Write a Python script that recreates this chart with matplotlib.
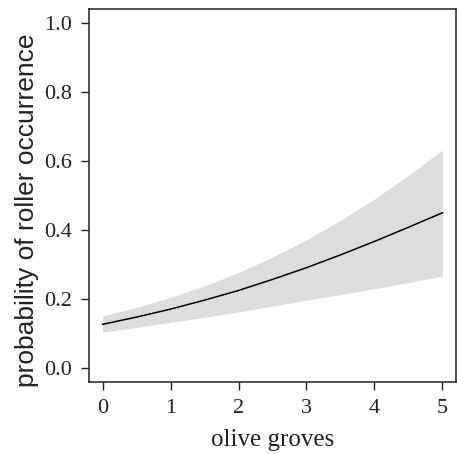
import matplotlib
matplotlib.use("Agg")
import matplotlib.pyplot as plt

# data
x_vals = [0, 0.5, 1, 1.5, 2, 2.5, 3, 3.5, 4, 4.5, 5]
p_fit = [0.127, 0.148, 0.171, 0.197, 0.225, 0.257, 0.291, 0.328, 0.367, 0.408, 0.450]
p_low = [0.104, 0.118, 0.133, 0.147, 0.163, 0.180, 0.197, 0.213, 0.230, 0.248, 0.267]
p_high = [0.151, 0.176, 0.205, 0.238, 0.277, 0.322, 0.372, 0.428, 0.490, 0.558, 0.632]
x_ticks = [0, 1, 2, 3, 4, 5]
y_ticks = [0.0, 0.2, 0.4, 0.6, 0.8, 1.0]

fig = plt.figure(figsize=(4.57, 4.54), dpi=100)
ax = fig.add_axes([89/457, (454-382)/454, (456-89)/457, (382-9)/454])

ax.fill_between(x_vals, p_low, p_high, color="#dddddd", linewidth=0)
ax.plot(x_vals, p_fit, color="black", linewidth=1.1)

ax.set_xlim(-0.2, 5.2)
ax.set_ylim(-0.04, 1.04)
ax.set_xticks(x_ticks)
ax.set_xticklabels([str(t) for t in x_ticks])
ax.set_yticks(y_ticks)
ax.set_yticklabels([f"{t:.1f}" for t in y_ticks])

serif = "Liberation Serif"
for lab in ax.get_xticklabels() + ax.get_yticklabels():
    lab.set_fontfamily(serif)
    lab.set_fontsize(16)
    lab.set_color("#222222")

ax.tick_params(axis="both", direction="out", length=6, width=1.0, color="#222222")
ax.tick_params(axis="x", pad=6)
ax.tick_params(axis="y", pad=6)

for s in ax.spines.values():
    s.set_linewidth(1.1)
    s.set_color("#222222")

ax.set_xlabel("olive groves", fontfamily=serif, fontsize=18, color="#222222")
ax.xaxis.set_label_coords(0.501, -0.155)
ax.xaxis.label.set_va("center")
ax.set_ylabel("probability of roller occurrence", fontfamily="Liberation Sans",
              fontsize=19, color="#222222")
ax.yaxis.set_label_coords(-0.169, 0.46)
ax.yaxis.label.set_va("center")

fig.savefig("out.png", dpi=100)
